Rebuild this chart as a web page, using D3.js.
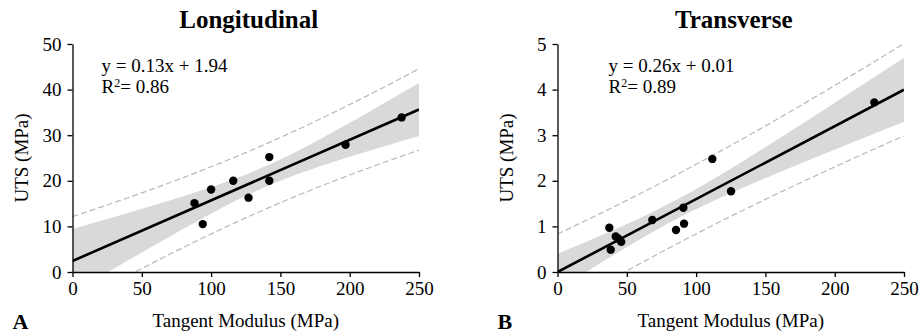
<!DOCTYPE html>
<html>
<head>
<meta charset="utf-8">
<script src="https://cdn.jsdelivr.net/npm/d3@7"></script>
<style>
  body { margin: 0; background: #fff; }
  text { font-family: "Liberation Serif", "Times New Roman", serif; fill: #000; }
</style>
</head>
<body>
<svg id="chart" width="920" height="333"></svg>
<script>
// values (tangent modulus vs UTS, both MPa)
const longModulus = [88, 94, 100, 116, 127, 142, 142, 197, 237.5];
const longUTS = [15.1, 10.5, 18.1, 20.0, 16.3, 25.2, 20.0, 27.9, 33.9];

const transModulus = [37.4, 38.4, 42, 44, 46, 68.4, 85.5, 90.8, 91.3, 111.7, 125.2, 228.6];
const transUTS = [0.97, 0.49, 0.78, 0.73, 0.66, 1.14, 0.92, 1.41, 1.06, 2.48, 1.77, 3.72];

const panelTitles = ["Longitudinal", "Transverse"];
const panelLetters = ["A", "B"];
const eqLabels = ["y = 0.13x + 1.94", "y = 0.26x + 0.01"];
const r2Labels = ["0.86", "0.89"];

const xTicks = [0, 50, 100, 150, 200, 250];
const longTicks = [0, 10, 20, 30, 40, 50];
const transTicks = [0, 1, 2, 3, 4, 5];

// two-sided 95% t critical values by degrees of freedom
const tCrit = { 7: 2.365, 10: 2.228 };

const svg = d3.select('#chart');

function regression(xs, ys) {
  const n = xs.length;
  const mx = d3.mean(xs), my = d3.mean(ys);
  const sxx = d3.sum(xs, x => (x - mx) ** 2);
  const sxy = d3.sum(xs, (x, i) => (x - mx) * (ys[i] - my));
  const b = sxy / sxx, a = my - b * mx;
  const sse = d3.sum(xs, (x, i) => (ys[i] - a - b * x) ** 2);
  const s = Math.sqrt(sse / (n - 2));
  const t = tCrit[n - 2];
  const at = x => a + b * x;
  const ci = x => t * s * Math.sqrt(1 / n + (x - mx) ** 2 / sxx);
  const pi = x => t * s * Math.sqrt(1 + 1 / n + (x - mx) ** 2 / sxx);
  return { at, ci, pi };
}

function drawPanel(idx, xs, ys, yMax, yTicks, left, textDx) {
  const top = 44, bottom = 272, right = left + 346.5;

  const x = d3.scaleLinear().domain([0, 250]).range([left, right]);
  const y = d3.scaleLinear().domain([0, yMax]).range([bottom, top]);

  const g = svg.append('g');
  const clipId = 'clip' + idx;
  g.append('clipPath').attr('id', clipId)
    .append('rect')
    .attr('x', left).attr('y', top)
    .attr('width', right - left).attr('height', bottom - top);

  const fit = regression(xs, ys);
  const grid = d3.range(0, 250.001, 2.5);

  const plot = g.append('g').attr('clip-path', `url(#${clipId})`);

  // 95% confidence band
  plot.append('path')
    .datum(grid)
    .attr('d', d3.area()
      .x(d => x(d))
      .y0(d => y(fit.at(d) - fit.ci(d)))
      .y1(d => y(fit.at(d) + fit.ci(d))))
    .attr('fill', '#d9d9d9');

  // 95% prediction limits
  [-1, 1].forEach(sign => {
    plot.append('path')
      .datum(grid)
      .attr('d', d3.line().x(d => x(d)).y(d => y(fit.at(d) + sign * fit.pi(d))))
      .attr('fill', 'none')
      .attr('stroke', '#b8b8b8')
      .attr('stroke-width', 1.2)
      .attr('stroke-dasharray', '6,3');
  });

  plot.append('path')
    .datum([0, 250])
    .attr('d', d3.line().x(d => x(d)).y(d => y(fit.at(d))))
    .attr('stroke', '#000')
    .attr('stroke-width', 2.6);

  g.selectAll('circle.pt')
    .data(xs)
    .enter()
    .append('circle')
    .attr('class', 'pt')
    .attr('cx', d => x(d))
    .attr('cy', (d, i) => y(ys[i]))
    .attr('r', 4.2)
    .attr('fill', '#000');

  // axes
  const xAxis = g.append('g')
    .attr('transform', `translate(0,${bottom})`)
    .call(d3.axisBottom(x).tickValues(xTicks).tickFormat(d3.format('d'))
      .tickSize(5).tickSizeOuter(0).tickPadding(5));
  const yAxis = g.append('g')
    .attr('transform', `translate(${left},0)`)
    .call(d3.axisLeft(y).tickValues(yTicks).tickFormat(d3.format('d'))
      .tickSize(5).tickSizeOuter(0).tickPadding(6));
  [xAxis, yAxis].forEach(ax => {
    ax.selectAll('text').style('font-size', '19px').attr('font-family', null);
    ax.selectAll('line, path').attr('stroke', '#000').attr('stroke-width', 1.3);
  });

  const cx = (left + right) / 2;
  g.append('text')
    .attr('x', cx + 3).attr('y', 28)
    .attr('text-anchor', 'middle')
    .style('font-size', '25px').style('font-weight', 'bold')
    .text(panelTitles[idx]);

  g.append('text')
    .attr('x', cx).attr('y', 327)
    .attr('text-anchor', 'middle')
    .style('font-size', '19px')
    .text('Tangent Modulus (MPa)');

  g.append('text')
    .attr('transform', `translate(${left - 45},${(top + bottom) / 2}) rotate(-90)`)
    .attr('text-anchor', 'middle')
    .style('font-size', '19px')
    .text('UTS (MPa)');

  g.append('text')
    .attr('x', left - 60).attr('y', 329)
    .style('font-size', '22px').style('font-weight', 'bold')
    .text(panelLetters[idx]);

  // equation and R^2
  g.append('text')
    .attr('x', left + textDx).attr('y', 71.7)
    .style('font-size', '19px')
    .text(eqLabels[idx]);
  const r2 = g.append('text')
    .attr('x', left + textDx).attr('y', 93.3)
    .style('font-size', '19px');
  r2.append('tspan').text('R');
  r2.append('tspan').attr('dy', -6).style('font-size', '12px').text('2');
  r2.append('tspan').attr('dy', 6).text('= ' + r2Labels[idx]);
}

drawPanel(0, longModulus, longUTS, 50, longTicks, 72.5, 29);
drawPanel(1, transModulus, transUTS, 5, transTicks, 557.5, 51);
</script>
</body>
</html>
